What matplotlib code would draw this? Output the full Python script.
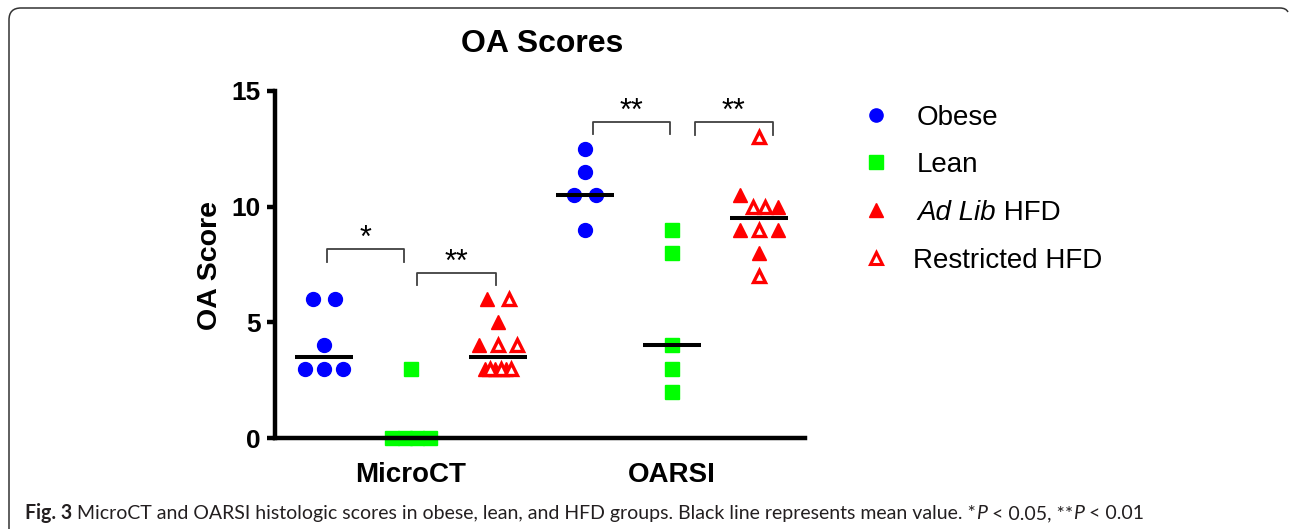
import numpy as np
import matplotlib
matplotlib.use("Agg")
import matplotlib.pyplot as plt
from matplotlib.path import Path
from matplotlib.patches import PathPatch

# ---------------- data ----------------
categories = ["MicroCT", "OARSI"]
group_names = ["Obese", "Lean", "Ad Lib HFD", "Restricted HFD"]

microct_obese = [6, 6, 4, 3, 3, 3]
microct_lean = [3, 0, 0, 0, 0]
microct_hfd = [6, 6, 5, 4, 4, 4, 3, 3, 3, 3, 3, 3]
microct_hfd_kind = ["A", "R", "A", "A", "R", "R", "A", "R", "A", "R", "A", "R"]

oarsi_obese = [12.5, 11.5, 10.5, 10.5, 9]
oarsi_lean = [9, 8, 4, 3, 2]
oarsi_hfd = [13, 10.5, 10, 10, 10, 9, 9, 9, 8, 7]
oarsi_hfd_kind = ["R", "A", "R", "R", "A", "A", "R", "A", "A", "R"]

y_ticks = [0, 5, 10, 15]
sig_labels = ["*", "**", "**", "**"]

# ---------------- style ----------------
W, H = 1290, 529
BLUE, GREEN, RED = "#0000ff", "#00ff00", "#ff0000"
FONT = "Liberation Sans"
plt.rcParams["font.family"] = [FONT, "DejaVu Sans"]

fig = plt.figure(figsize=(W / 100, H / 100), dpi=100)
fig.patch.set_facecolor("white")

ax_l, ax_r, ax_t, ax_b = 275, 805, 91, 438
ax = fig.add_axes([ax_l / W, 1 - ax_b / H, (ax_r - ax_l) / W, (ax_b - ax_t) / H])
ax.set_xlim(-0.563, 5.53)
ax.set_ylim(0, 15)
for s in ["top", "right"]:
    ax.spines[s].set_visible(False)
for s in ["left", "bottom"]:
    ax.spines[s].set_linewidth(3.2)
    ax.spines[s].set_zorder(5)
ax.set_facecolor("none")


def swarm_offsets(values, gap=0.75):
    vals = np.asarray(values, float)
    offs = np.zeros(len(vals))
    idx_sorted = sorted(range(len(vals)), key=lambda i: (-vals[i], i))
    clusters, cur = [], [idx_sorted[0]]
    for i in idx_sorted[1:]:
        if vals[cur[-1]] - vals[i] < gap:
            cur.append(i)
        else:
            clusters.append(cur)
            cur = [i]
    clusters.append(cur)
    for c in clusters:
        n = len(c)
        if n == 1:
            continue
        smax = 0.44 if n <= 4 else 0.30
        step = min(0.25, smax / (n - 1))
        for k, i in enumerate(c):
            offs[i] = (k - (n - 1) / 2) * step
    return offs


def draw_group(xc, values, marker, color, kinds=None):
    offs = swarm_offsets(values)
    vals = np.asarray(values, float)
    if kinds is None:
        ax.plot(xc + offs, vals, ls="none", marker=marker, ms=10, color=color,
                mec=color, clip_on=False, zorder=3)
    else:
        kinds = np.asarray(kinds)
        a = kinds == "A"
        ax.plot(xc + offs[a], vals[a], ls="none", marker="^", ms=10.5, color=RED,
                mec=RED, clip_on=False, zorder=3)
        ax.plot(xc + offs[~a], vals[~a], ls="none", marker="^", ms=9, mfc="white",
                mec=RED, mew=2.4, clip_on=False, zorder=3)
    med = np.median(vals)
    ax.plot([xc - 0.335, xc + 0.335], [med, med], color="black", lw=2.9,
            solid_capstyle="butt", zorder=4, clip_on=False)


draw_group(0, microct_obese, "o", BLUE)
draw_group(1, microct_lean, "s", GREEN)
draw_group(2, microct_hfd, "^", RED, microct_hfd_kind)
draw_group(3, oarsi_obese, "o", BLUE)
draw_group(4, oarsi_lean, "s", GREEN)
draw_group(5, oarsi_hfd, "^", RED, oarsi_hfd_kind)

# significance brackets
brackets = [(0.03, 0.92, 8.17, 7.6), (1.07, 1.98, 7.13, 6.6),
            (3.09, 3.98, 13.66, 13.14), (4.26, 5.16, 13.66, 13.1)]
for (x0, x1, ytop, yleg), lab in zip(brackets, sig_labels):
    ax.plot([x0, x0, x1, x1], [yleg, ytop, ytop, yleg], color="#404040", lw=1.3,
            clip_on=False, zorder=3)
    ax.text((x0 + x1) / 2, ytop - 0.2, lab, ha="center", va="bottom",
            fontsize=22, family=FONT, clip_on=False)

# ticks
ax.set_yticks(y_ticks)
ax.set_yticklabels([str(v) for v in y_ticks], fontsize=19, fontweight="bold")
ax.tick_params(axis="y", length=6, width=3.2, pad=4)
ax.set_xticks([1, 4])
ax.set_xticklabels(categories, fontsize=20, fontweight="bold")
ax.tick_params(axis="x", length=0, pad=17)

# ---------------- overlay ----------------
ov = fig.add_axes([0, 0, 1, 1], zorder=10)
ov.set_xlim(0, W)
ov.set_ylim(H, 0)
ov.axis("off")

ov.text(542, 52, "OA Scores", ha="center", va="baseline", fontsize=23,
        fontweight="bold", family=FONT)
ov.text(210, 265, "OA Score", ha="center", va="center", rotation=90,
        fontsize=20.5, fontweight="bold", family=FONT)

renderer = fig.canvas.get_renderer()


def seq_text(x, y, pieces, size, family, color="black"):
    arts = []
    for s, kw in pieces:
        t = ov.text(x, y, s, ha="left", va="baseline", fontsize=size,
                    family=family, color=color, **kw)
        arts.append(t)
        bb = t.get_window_extent(renderer)
        x = bb.x1
    return arts, x


# legend
leg_x, leg_tx = 876, 917
leg_rows = [115, 162, 210, 258]
ov.plot(leg_x, leg_rows[0], marker="o", ms=9.5, color=BLUE, ls="none")
ov.plot(leg_x, leg_rows[1], marker="s", ms=9.5, color=GREEN, ls="none")
ov.plot(leg_x, leg_rows[2], marker="^", ms=10, color=RED, ls="none")
ov.plot(leg_x, leg_rows[3], marker="^", ms=8.5, mfc="white", mec=RED, mew=2.2, ls="none")
seq_text(leg_tx, leg_rows[0] + 10, [(group_names[0], {})], 20, FONT)
seq_text(leg_tx, leg_rows[1] + 10, [(group_names[1], {})], 20, FONT)
seq_text(leg_tx, leg_rows[2] + 10, [("Ad Lib", {"style": "italic"}), (" HFD", {})], 20, FONT)
seq_text(leg_tx - 4, leg_rows[3] + 10, [(group_names[3], {})], 20, FONT)

# caption
cap_pieces = [("Fig. 3", {"fontweight": "bold"}),
              (" MicroCT and OARSI histologic scores in obese, lean, and HFD groups. "
               "Black line represents mean value. *", {}),
              ("P", {"style": "italic"}),
              (" < 0.05, **", {}),
              ("P", {"style": "italic"}),
              (" < 0.01", {})]
CAP_FONT = "Lato"
cap_x0, cap_x1 = 25, 1142
arts, xe = seq_text(cap_x0, 519, cap_pieces, 13, CAP_FONT, color="#231f20")
scale = (cap_x1 - cap_x0) / (xe - cap_x0)
for a in arts:
    a.remove()
seq_text(cap_x0, 519, cap_pieces, 13 * scale, CAP_FONT, color="#231f20")

# frame
verts = [(9, 529), (9, 20), (9, 12), (13, 8), (21, 8), (1280, 8), (1286, 8), (1288, 12)]
codes = [Path.MOVETO, Path.LINETO, Path.CURVE4, Path.CURVE4, Path.CURVE4,
         Path.LINETO, Path.CURVE3, Path.CURVE3]
ov.add_patch(PathPatch(Path(verts, codes), fill=False, edgecolor="#333333", lw=1.1))

fig.savefig("out.png", dpi=100)
